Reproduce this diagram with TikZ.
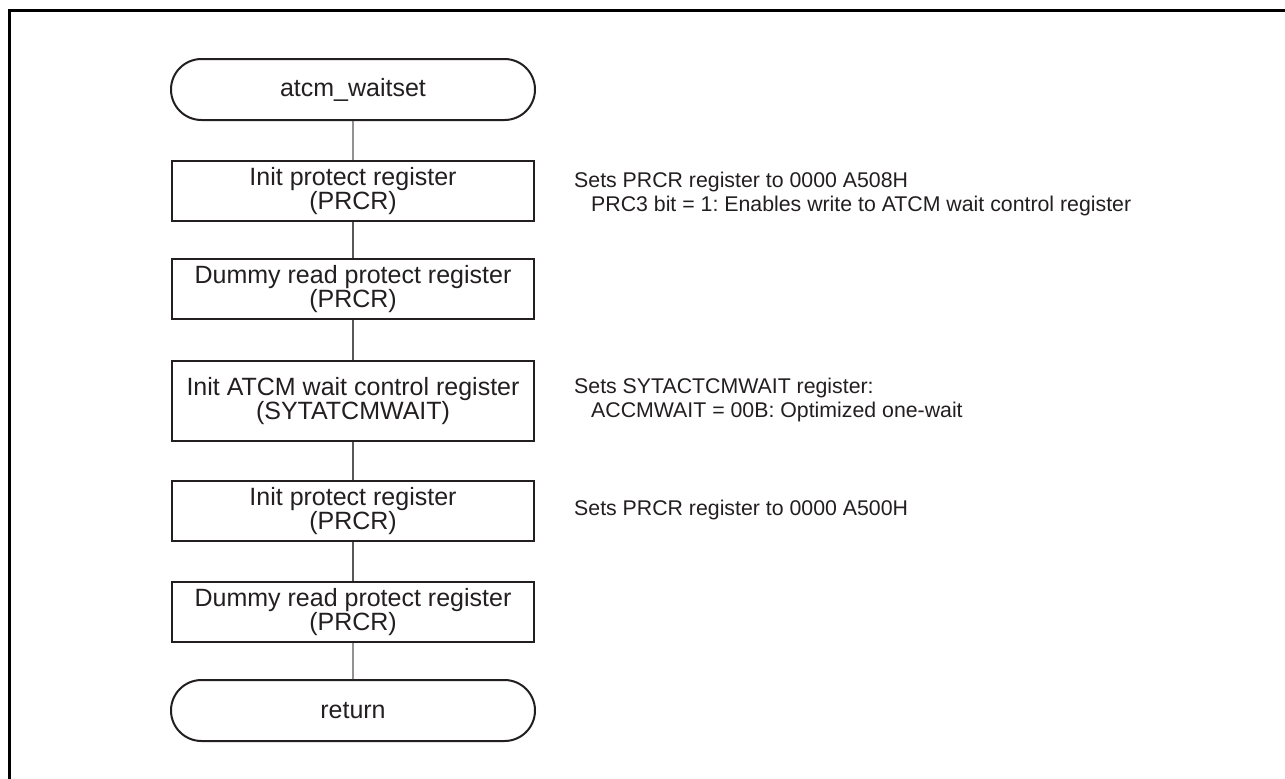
\documentclass[tikz,border=0pt]{standalone}
\usepackage{fontspec}
\setmainfont{Liberation Sans}
\usetikzlibrary{shapes.misc}
\definecolor{ink}{HTML}{231F20}
\frenchspacing
\begin{document}
\begin{tikzpicture}[x=1pt,y=-1pt,
  procbox/.style={draw=ink, text=ink, line width=2.2pt, minimum width=362pt, inner sep=0pt, align=center, font=\fontsize{25}{23}\selectfont},
  termbox/.style={rounded rectangle, draw=ink, text=ink, line width=2pt, minimum width=364pt, minimum height=61pt, inner sep=0pt, font=\fontsize{25}{23}\selectfont},
  note/.style={anchor=west, align=left, inner sep=0pt, text=ink, font=\fontsize{21.3}{24}\selectfont},
  link/.style={draw=ink!75, line width=1.2pt}]
\useasboundingbox (0,0) rectangle (1285,779);
\fill[white] (0,0) rectangle (1285,779);
\draw[line width=3pt] (9.5,779) -- (9.5,10.5) -- (1285,10.5);

\node[termbox] (start) at (353,89.5) {atcm\_waitset};
\node[procbox, minimum height=60pt] (b1) at (353,191) {Init protect register\\(PRCR)};
\node[procbox, minimum height=60pt] (b2) at (353,289) {Dummy read protect register\\(PRCR)};
\node[procbox, minimum height=80pt] (b3) at (353,401) {Init ATCM wait control register\\(SYTATCMWAIT)};
\node[procbox, minimum height=60pt] (b4) at (353,511) {Init protect register\\(PRCR)};
\node[procbox, minimum height=60pt] (b5) at (353,612) {Dummy read protect register\\(PRCR)};
\node[termbox] (ret) at (353,710.5) {return};

\draw[link] (start) -- (b1);
\draw[link] (b1) -- (b2);
\draw[link] (b2) -- (b3);
\draw[link] (b3) -- (b4);
\draw[link] (b4) -- (b5);
\draw[link] (b5) -- (ret);

\node[note] (n1) at (574,194) {Sets PRCR register to 0000 A508H\\\hspace*{17pt}PRC3 bit = 1: Enables write to ATCM wait control register};
\node[note] (n3) at (574,400) {Sets SYTACTCMWAIT register:\\\hspace*{17pt}ACCMWAIT = 00B: Optimized one-wait};
\node[note] (n4) at (574,510) {Sets PRCR register to 0000 A500H};
\end{tikzpicture}
\end{document}
